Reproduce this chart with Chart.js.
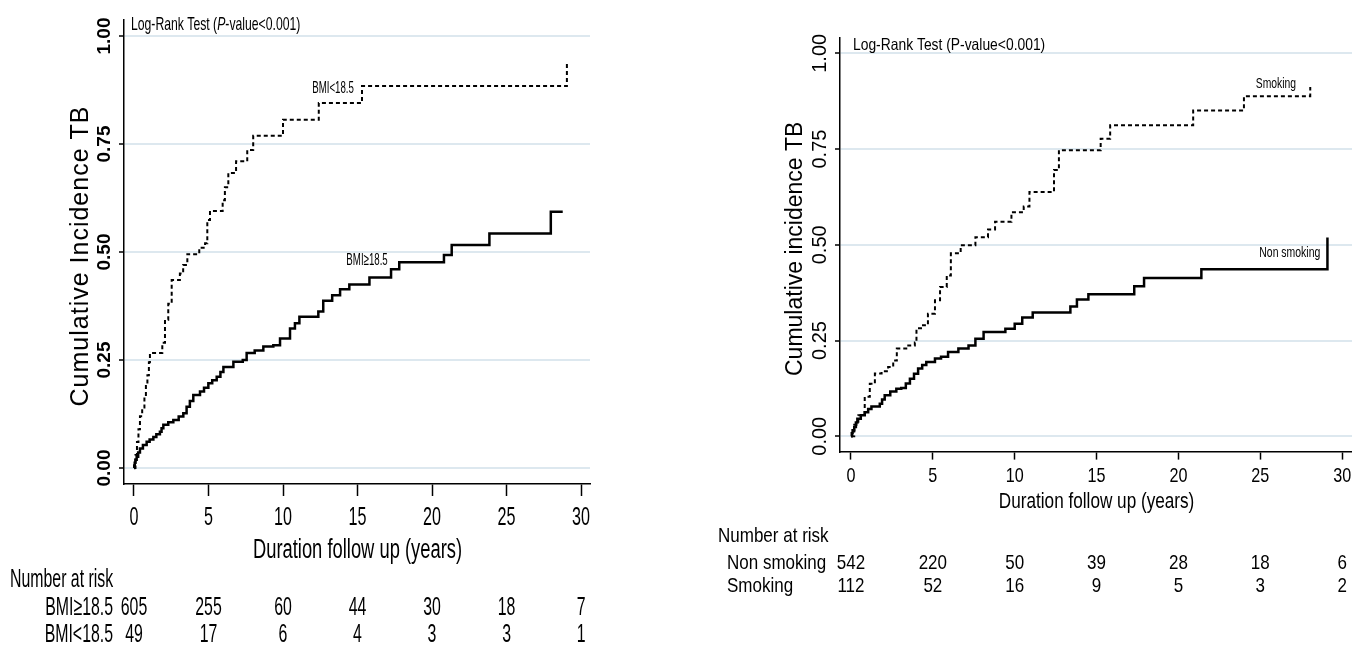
<!DOCTYPE html>
<html>
<head>
<meta charset="utf-8">
<script src="https://cdn.jsdelivr.net/npm/chart.js@4.4.1/dist/chart.umd.min.js"></script>
<style>
body { margin: 0; background: #fff; width: 1352px; height: 649px; overflow: hidden; }
canvas { position: absolute; top: 0; }
#leftChart { left: 0; }
#rightChart { left: 676px; }
</style>
</head>
<body>
<canvas id="leftChart" width="676" height="649"></canvas>
<canvas id="rightChart" width="676" height="649"></canvas>
<script>
var xTicks = [0, 5, 10, 15, 20, 25, 30];
var xTickLabels = ['0', '5', '10', '15', '20', '25', '30'];
var yTicks = [0, 0.25, 0.5, 0.75, 1];
var yTickLabels = ['0.00', '0.25', '0.50', '0.75', '1.00'];

// BMI panel: [years, cumulative incidence]
var bmiLowCurve = [[0,0],[0.1,0.03],[0.2,0.06],[0.3,0.09],[0.4,0.12],[0.55,0.14],[0.7,0.165],[0.8,0.19],
    [0.9,0.215],[1.0,0.245],[1.07,0.266],[1.9,0.29],[2.08,0.343],[2.3,0.38],[2.53,0.435],[3.08,0.45],
    [3.3,0.47],[3.58,0.495],[4.38,0.51],[4.77,0.52],[4.92,0.574],[5.1,0.595],[5.95,0.62],[6.1,0.65],
    [6.33,0.683],[6.85,0.71],[7.6,0.736],[8.0,0.769],[10.0,0.806],[12.4,0.845],[15.3,0.884],[29.05,0.938]];
var bmiNormalCurve = [[0,0],[0.02,0.006],[0.05,0.012],[0.1,0.019],[0.18,0.026],[0.28,0.036],[0.4,0.045],
    [0.6,0.053],[0.85,0.061],[1.05,0.066],[1.3,0.072],[1.5,0.078],[1.74,0.084],[1.85,0.092],[1.97,0.1],
    [2.3,0.106],[2.64,0.111],[3.0,0.119],[3.31,0.127],[3.53,0.142],[3.75,0.155],[3.98,0.169],[4.43,0.177],
    [4.7,0.186],[4.99,0.196],[5.25,0.203],[5.55,0.211],[5.8,0.222],[6.0,0.234],[6.67,0.246],[7.3,0.25],
    [7.56,0.266],[8.1,0.272],[8.68,0.281],[9.35,0.284],[9.8,0.3],[10.47,0.323],[10.8,0.335],[11.1,0.35],
    [12.37,0.362],[12.7,0.387],[13.3,0.40],[13.83,0.414],[14.45,0.425],[15.8,0.441],[17.25,0.46],
    [17.8,0.476],[20.8,0.493],[21.32,0.516],[23.85,0.543],[27.97,0.593],[28.77,0.593]];
var bmiRiskLabels = ['BMI\u226518.5', 'BMI<18.5'];
var bmiNormalRisk = [605, 255, 60, 44, 30, 18, 7];
var bmiLowRisk = [49, 17, 6, 4, 3, 3, 1];

// smoking panel
var smokingCurve = [[0,0],[0.2,0.03],[0.45,0.055],[0.84,0.103],[1.15,0.137],[1.46,0.164],[1.87,0.17],
    [2.27,0.181],[2.58,0.198],[2.8,0.229],[3.5,0.237],[3.9,0.245],[4.0,0.282],[4.4,0.29],[4.7,0.32],
    [5.13,0.355],[5.44,0.39],[5.85,0.42],[6.1,0.478],[6.7,0.499],[7.6,0.52],[8.37,0.54],[8.8,0.56],
    [9.8,0.585],[10.55,0.6],[10.9,0.638],[12.4,0.695],[12.7,0.747],[15.25,0.777],[15.83,0.812],
    [20.9,0.851],[24.0,0.888],[28.05,0.912]];
var nonSmokingCurve = [[0,0],[0.05,0.008],[0.1,0.016],[0.2,0.024],[0.3,0.036],[0.39,0.046],[0.6,0.055],
    [0.84,0.063],[1.05,0.071],[1.25,0.078],[1.76,0.085],[1.9,0.096],[2.06,0.107],[2.4,0.117],[2.77,0.124],
    [3.07,0.126],[3.35,0.138],[3.6,0.15],[3.85,0.163],[4.1,0.177],[4.35,0.186],[4.6,0.194],[5.13,0.203],
    [5.5,0.208],[5.93,0.22],[6.56,0.229],[7.18,0.237],[7.6,0.255],[8.1,0.272],[9.43,0.281],[10.0,0.294],
    [10.46,0.31],[11.1,0.323],[13.4,0.339],[13.8,0.357],[14.5,0.371],[17.3,0.392],[17.9,0.413],
    [21.4,0.436],[29.1,0.519]];
var smokingRiskLabels = ['Non smoking', 'Smoking'];
var nonSmokingRisk = [542, 220, 50, 39, 28, 18, 6];
var smokingRisk = [112, 52, 16, 9, 5, 3, 2];

var FONT = '"Liberation Sans", Arial, sans-serif';

function toPoints(arr) {
    return arr.map(function (p) { return { x: p[0], y: p[1] }; });
}

// draw text squeezed horizontally (the original uses a narrow face)
function txt(ctx, s, x, y, size, sx, align, style) {
    ctx.save();
    ctx.font = (style || '') + ' ' + size + 'px ' + FONT;
    ctx.fillStyle = '#000';
    ctx.textBaseline = 'middle';
    ctx.textAlign = align || 'center';
    ctx.translate(x, y);
    ctx.scale(sx, 1);
    ctx.fillText(s, 0, 0);
    ctx.restore();
}

function vtxt(ctx, s, x, y, font, spacing) {
    ctx.save();
    ctx.font = font;
    if (spacing) ctx.letterSpacing = spacing;
    ctx.fillStyle = '#000';
    ctx.textBaseline = 'middle';
    ctx.textAlign = 'center';
    ctx.translate(x, y);
    ctx.rotate(-Math.PI / 2);
    ctx.fillText(s, 0, 0);
    ctx.restore();
}

function runs(ctx, parts, x, y, size, sx) {
    parts.forEach(function (p) {
        ctx.font = (p[1] || '') + ' ' + size + 'px ' + FONT;
        var w = ctx.measureText(p[0]).width * sx;
        txt(ctx, p[0], x, y, size, sx, 'left', p[1]);
        x += w;
    });
}

function makePanel(id, L) {
    var textPlugin = {
        id: 'panelText',
        afterDraw: function (chart) {
            var ctx = chart.ctx, xs = chart.scales.x, ys = chart.scales.y;
            yTicks.forEach(function (v, i) {
                vtxt(ctx, yTickLabels[i], L.yTickX, ys.getPixelForValue(v), L.yTickFont);
            });
            vtxt(ctx, L.yTitle, L.yTitleX, (chart.chartArea.top + chart.chartArea.bottom) / 2 + 4, L.yTitleFont, L.yTitleSpacing);
            xTicks.forEach(function (v, i) {
                txt(ctx, xTickLabels[i], xs.getPixelForValue(v), L.xTickY, L.xTickSize, L.xTickSx);
            });
            txt(ctx, 'Duration follow up (years)', xs.getPixelForValue(15), L.xTitleY, L.xTitleSize, L.xTitleSx);

            txt(ctx, 'Number at risk', L.narX, L.narY, L.riskSize, L.riskSx, 'left');
            L.riskRows.forEach(function (row, r) {
                txt(ctx, L.riskLabels[r], L.rowLabelX, L.rowY[r], L.riskSize, L.riskSx, L.rowAlign);
                row.forEach(function (n, i) {
                    txt(ctx, String(n), xs.getPixelForValue(xTicks[i]), L.rowY[r], L.riskSize, L.riskSx);
                });
            });

            runs(ctx, L.logRank, L.logRankX, L.logRankY, L.logRankSize, L.logRankSx);
            L.curveLabels.forEach(function (c) {
                txt(ctx, c.text, xs.getPixelForValue(c.x), ys.getPixelForValue(c.y), c.size, c.sx);
            });
        }
    };

    return new Chart(document.getElementById(id), {
        type: 'line',
        data: {
            datasets: [{
                data: toPoints(L.dashed),
                borderColor: '#000',
                borderWidth: 2,
                borderDash: [4, 3],
                stepped: true,
                pointRadius: 0,
                fill: false
            }, {
                data: toPoints(L.solid),
                borderColor: '#000',
                borderWidth: 2.5,
                stepped: true,
                pointRadius: 0,
                fill: false
            }]
        },
        options: {
            responsive: false,
            animation: false,
            devicePixelRatio: 1,
            layout: { padding: { left: 0, right: L.padRight, top: L.padTop, bottom: 0 } },
            plugins: { legend: { display: false }, tooltip: { enabled: false } },
            scales: {
                x: {
                    type: 'linear', min: -0.67, max: 30.6,
                    afterBuildTicks: function (s) { s.ticks = xTicks.map(function (v) { return { value: v }; }); },
                    afterFit: function (s) { s.height = L.xAxisHeight; },
                    ticks: { display: false, autoSkip: false },
                    grid: { drawOnChartArea: false, drawTicks: true, tickLength: L.xTickLen, tickColor: '#000', tickWidth: 1.5 },
                    border: { color: '#000', width: 1.5 }
                },
                y: {
                    type: 'linear', min: L.yMin, max: L.yMax,
                    afterBuildTicks: function (s) { s.ticks = yTicks.map(function (v) { return { value: v }; }); },
                    afterFit: function (s) { s.width = L.yAxisWidth; },
                    ticks: { display: false },
                    grid: { color: '#dde8ef', lineWidth: 2, tickLength: 5, tickColor: '#000', tickWidth: 1.5 },
                    border: { color: '#000', width: 1.5 }
                }
            }
        },
        plugins: [textPlugin]
    });
}

makePanel('leftChart', {
    dashed: bmiLowCurve, solid: bmiNormalCurve,
    padTop: 20, padRight: 86, yAxisWidth: 124, xAxisHeight: 165, xTickLen: 12,
    yMin: -0.037, yMax: 1.037,
    yTickX: 105, yTickFont: 'bold 19px ' + FONT,
    yTitle: 'Cumulative Incidence TB', yTitleX: 81, yTitleFont: '25px ' + FONT, yTitleSpacing: '1px',
    xTickY: 518, xTickSize: 26, xTickSx: 0.62,
    xTitleY: 551, xTitleSize: 27, xTitleSx: 0.68,
    narX: 10, narY: 580, riskSize: 26, riskSx: 0.61,
    riskLabels: bmiRiskLabels, riskRows: [bmiNormalRisk, bmiLowRisk],
    rowLabelX: 113, rowAlign: 'right', rowY: [608, 635],
    logRank: [['Log-Rank Test ('], ['P', 'italic'], ['-value<0.001)']],
    logRankX: 131, logRankY: 25, logRankSize: 18.5, logRankSx: 0.66,
    curveLabels: [
        { text: 'BMI<18.5', x: 13.36, y: 0.88, size: 17, sx: 0.57 },
        { text: 'BMI\u226518.5', x: 15.64, y: 0.481, size: 17, sx: 0.57 }
    ]
});

makePanel('rightChart', {
    dashed: smokingCurve, solid: nonSmokingCurve,
    padTop: 38, padRight: 0, yAxisWidth: 164, xAxisHeight: 197.4, xTickLen: 8,
    yMin: -0.04, yMax: 1.04,
    yTickX: 144, yTickFont: '20px ' + FONT,
    yTitle: 'Cumulative incidence TB', yTitleX: 120, yTitleFont: '23px ' + FONT, yTitleSpacing: '0px',
    xTickY: 476, xTickSize: 21, xTickSx: 0.77,
    xTitleY: 502, xTitleSize: 22, xTitleSx: 0.78,
    narX: 42, narY: 536, riskSize: 21, riskSx: 0.81,
    riskLabels: smokingRiskLabels, riskRows: [nonSmokingRisk, smokingRisk],
    rowLabelX: 51, rowAlign: 'left', rowY: [563, 586],
    logRank: [['Log-Rank Test (P-value<0.001)']],
    logRankX: 177, logRankY: 45, logRankSize: 16.5, logRankSx: 0.84,
    curveLabels: [
        { text: 'Smoking', x: 25.95, y: 0.921, size: 15, sx: 0.69 },
        { text: 'Non smoking', x: 26.8, y: 0.479, size: 14.5, sx: 0.72 }
    ]
});
</script>
</body>
</html>
